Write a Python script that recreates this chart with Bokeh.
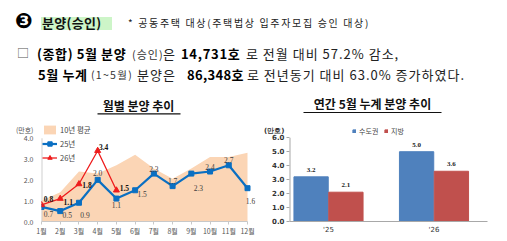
from bokeh.plotting import figure
from bokeh.models import (ColumnDataSource, Range1d, FixedTicker, Legend, LegendItem,
                          Label, LabelSet, Div, BoxAnnotation)
from bokeh.layouts import column, row
from bokeh.transform import dodge
from bokeh.embed import file_html
from bokeh.resources import INLINE

# ---------------- data ----------------
months = list(range(1, 13))
month_labels = [f"{m}월" for m in months]
avg10 = [1.0, 1.4, 2.4, 2.3, 2.7, 3.2, 2.55, 2.05, 2.55, 3.1, 3.1, 3.3]
y25 = [0.7, 0.5, 0.9, 2.0, 1.1, 1.5, 2.3, 1.7, 2.3, 2.4, 2.7, 1.6]
months26 = [1, 2, 3, 4, 5]
y26 = [0.8, 1.1, 1.8, 3.4, 1.5]
y_ticks_left = [0, 1, 2, 3, 4]
unit_label = "(만호)"

years = ["'25", "'26"]
year_idx = [0, 1]
capital = [3.2, 5.0]
regional = [2.1, 3.6]
y_ticks_right = [0, 1, 2, 3, 4, 5, 6]

# label offsets (styling only)
off25_x = [7, 7, 6, 0, 0, 7, 0, 0, 7, 0, 0, 3]
off25_y = [-7, -4, -12, 7, -6, -4, 5, 5, -14, 5, 5, -13]
off26_x = [7, 8, 8, 6, 8]
off26_y = [6, -3, -1, 4, 2]

FONT = "Noto Sans CJK KR"

# ---------------- header ----------------
def span(txt, left, top, size, weight="normal", ls=0, color="#111", extra=""):
    return (f'<span style="position:absolute;left:{left}px;top:{top}px;font-size:{size}px;'
            f'font-weight:{weight};letter-spacing:{ls}px;color:{color};white-space:nowrap;'
            f'line-height:{size + 2}px;font-family:\'{FONT}\',\'DejaVu Sans\';{extra}">{txt}</span>')

html = '<div style="position:relative;width:507px;height:88px;">'
html += span("❸", 15, 10, 21, "bold", 0, "#000", "font-family:'DejaVu Sans';")
html += ('<span style="position:absolute;left:41px;top:17px;width:71px;height:13px;'
         'background:#cdf5c8;"></span>')
html += span("분양(승인)", 42, 15, 13, "bold", 0.3, "#111")
html += span("* 공동주택 대상(주택법상 입주자모집 승인 대상)", 128, 17, 10, "normal", 1.65, "#222")
html += span("□", 17, 46, 12, "normal", 0, "#555")
html += span("(종합) 5월 분양", 37, 46, 13, "bold", 0.6, "#000")
html += span("(승인)", 132, 48, 11, "normal", 1.0, "#333")
html += span("은", 163, 46, 13, "normal", 0, "#222")
html += span("14,731호", 181, 46, 13, "bold", 0.7, "#000")
html += span("로 전월 대비 57.2% 감소,", 246, 46, 13, "normal", 1.0, "#222")
html += span("5월 누계", 38, 67, 13, "bold", 0.6, "#000")
html += span("(1~5월)", 91, 69, 10.5, "normal", 1.3, "#333")
html += span("분양은", 137, 67, 13, "normal", 1.0, "#222")
html += span("86,348호", 187, 67, 13, "bold", 0.3, "#000")
html += span("로 전년동기 대비 63.0% 증가하였다.", 247, 67, 13, "normal", 1.0, "#222")
html += '</div>'
header = Div(text=html, width=507, height=88, margin=(0, 0, 0, 0))

# ---------------- left chart ----------------
L_W, L_H = 256, 153
L_FL, L_FR, L_FB = 41, 255, 221          # frame left/right/bottom (page px)
px_x = (247 - 41) / (months[-1] - months[0])
px_y = (221 - 137.7) / y_ticks_left[-1]
p1 = figure(width=L_W, height=L_H, output_backend="svg", toolbar_location=None,
            x_range=Range1d(months[0], months[-1] + (L_FR - 247) / px_x),
            y_range=Range1d(0, (L_FB - 88) / px_y),
            min_border_left=L_FL, min_border_right=L_W - L_FR, min_border_top=0,
            min_border_bottom=241 - L_FB, outline_line_color=None)
p1.xgrid.visible = False
p1.ygrid.visible = False

src25 = ColumnDataSource(dict(x=months, y=y25, avg=avg10, lab=[f"{v:.1f}" for v in y25],
                              ox=off25_x, oy=off25_y))
src26 = ColumnDataSource(dict(x=months26, y=y26, lab=[f"{v:.1f}" for v in y26],
                              ox=off26_x, oy=off26_y))

r_area = p1.varea(x="x", y1=0, y2="avg", source=src25, fill_color="#fbd5b5")
# faint value-axis line
p1.segment(x0=months[0], y0=y_ticks_left[0], x1=months[0], y1=y_ticks_left[-1],
           line_color="#d0d0d0", line_width=2)
r25l = p1.line("x", "y", source=src25, line_color="#0a6fc2", line_width=2.2)
r25s = p1.scatter("x", "y", source=src25, marker="square", size=5, fill_color="#0a6fc2",
                  line_color="#0a6fc2")
r26l = p1.line("x", "y", source=src26, line_color="#ee1c1c", line_width=1.3)
r26s = p1.scatter("x", "y", source=src26, marker="triangle", size=6, fill_color="#ee1c1c",
                  line_color="#ee1c1c")

p1.add_layout(LabelSet(x="x", y="y", text="lab", source=src25, x_offset="ox", y_offset="oy",
                       text_align="center", text_baseline="middle", text_font_size="7.5px",
                       text_color="#404040", text_font="DejaVu Serif"))
p1.add_layout(LabelSet(x="x", y="y", text="lab", source=src26, x_offset="ox", y_offset="oy",
                       text_align="center", text_baseline="middle", text_font_size="7.5px",
                       text_color="#111", text_font_style="bold", text_font="DejaVu Sans"))

for ax in (p1.xaxis[0], p1.yaxis[0]):
    ax.major_label_text_font_size = "7px"
    ax.major_label_text_color = "#555"
    ax.major_label_text_font = FONT
    ax.minor_tick_line_color = None
p1.xaxis.axis_line_color = "#c8c8c8"
p1.xaxis.bounds = (months[0], months[-1])
p1.xaxis.ticker = FixedTicker(ticks=months)
p1.xaxis.major_label_overrides = {m: l for m, l in zip(months, month_labels)}
p1.xaxis.major_tick_line_color = "#c8c8c8"
p1.xaxis.major_tick_in = 0
p1.xaxis.major_tick_out = 3
p1.xaxis.major_label_standoff = 1

unit_pos_l = (L_FB - 129) / px_y
p1.yaxis.axis_line_color = None
p1.yaxis.ticker = FixedTicker(ticks=y_ticks_left + [unit_pos_l])
ov = {t: f"{t:.1f}" for t in y_ticks_left}
ov[unit_pos_l] = unit_label
p1.yaxis.major_label_overrides = ov
p1.yaxis.major_tick_line_color = None
p1.yaxis.major_tick_in = 0
p1.yaxis.major_tick_out = 0
p1.yaxis.major_label_standoff = 8

leg1 = Legend(items=[LegendItem(label="10년 평균", renderers=[r_area]),
                     LegendItem(label="25년", renderers=[r25l, r25s]),
                     LegendItem(label="26년", renderers=[r26l, r26s])],
              location=(1, 58), orientation="vertical", background_fill_alpha=0,
              border_line_color=None, padding=0, margin=0, spacing=3,
              glyph_width=15, glyph_height=11, label_height=11, label_standoff=3,
              label_text_font_size="7.5px", label_text_color="#444", label_text_font=FONT)
p1.add_layout(leg1, "center")

p1.add_layout(Label(x=97, y=116, x_units="screen", y_units="screen", text="월별 분양 추이",
                    text_align="center", text_baseline="middle", text_font_size="12px",
                    text_font_style="bold", text_color="#111", text_font=FONT))
p1.add_layout(BoxAnnotation(left=56, right=139, bottom=107, top=108.2, left_units="screen",
                            right_units="screen", bottom_units="screen", top_units="screen",
                            fill_color="#111", fill_alpha=1, line_color=None))

# ---------------- right chart ----------------
R_W, R_H = 507 - L_W, 153
R_FL, R_FR, R_FB = 289, 487, 223
px_xr = 433.5 - 328
px_yr = (R_FB - 138) / y_ticks_right[-1]
p2 = figure(width=R_W, height=R_H, output_backend="svg", toolbar_location=None,
            x_range=Range1d(-(328 - R_FL) / px_xr, 1 + (R_FR - 433.5) / px_xr),
            y_range=Range1d(0, (R_FB - 88) / px_yr),
            min_border_left=R_FL - L_W, min_border_right=507 - R_FR, min_border_top=0,
            min_border_bottom=241 - R_FB, outline_line_color=None)
p2.xgrid.visible = False
p2.ygrid.visible = False

srcR = ColumnDataSource(dict(idx=year_idx, cap=capital, reg=regional,
                             capl=[f"{v:.1f}" for v in capital],
                             regl=[f"{v:.1f}" for v in regional]))
rc = p2.vbar(x=dodge("idx", -0.165), top="cap", width=0.325,
             source=srcR, fill_color="#4f81bd", line_color="#4f81bd")
rr = p2.vbar(x=dodge("idx", 0.165), top="reg", width=0.325,
             source=srcR, fill_color="#c0504d", line_color="#c0504d")
p2.segment(x0=p2.x_range.start, y0=y_ticks_right[0], x1=p2.x_range.start,
           y1=y_ticks_right[-1], line_color="#a8a8a8", line_width=2)
p2.add_layout(LabelSet(x=dodge("idx", -0.165), y="cap", text="capl",
                       source=srcR, y_offset=7, text_align="center", text_baseline="middle",
                       text_font_size="7px", text_font_style="bold", text_color="#222",
                       text_font="DejaVu Sans"))
p2.add_layout(LabelSet(x=dodge("idx", 0.165), y="reg", text="regl",
                       source=srcR, y_offset=7, text_align="center", text_baseline="middle",
                       text_font_size="7px", text_font_style="bold", text_color="#222",
                       text_font="DejaVu Sans"))

for ax in (p2.xaxis[0], p2.yaxis[0]):
    ax.major_label_text_font_size = "7px"
    ax.major_label_text_color = "#333"
    ax.major_label_text_font = "DejaVu Sans"
p2.xaxis.axis_line_color = "#a8a8a8"
p2.xaxis.ticker = FixedTicker(ticks=year_idx)
p2.xaxis.major_label_overrides = {i: y for i, y in zip(year_idx, years)}
p2.xaxis.major_tick_line_color = None
p2.xaxis.minor_tick_line_color = None
p2.xaxis.major_tick_out = 3
p2.xaxis.major_label_standoff = 1

unit_pos_r = (R_FB - 131) / px_yr
ovr = {t: f"{t:.1f}" for t in y_ticks_right}
ovr[unit_pos_r] = unit_label
p2.yaxis.axis_line_color = None
p2.yaxis.ticker = FixedTicker(ticks=y_ticks_right + [unit_pos_r], minor_ticks=y_ticks_right)
p2.yaxis.major_label_overrides = ovr
p2.yaxis.major_label_text_font_style = "bold"
p2.yaxis.major_tick_line_color = None
p2.yaxis.major_tick_in = 0
p2.yaxis.major_tick_out = 3
p2.yaxis.minor_tick_line_color = "#a8a8a8"
p2.yaxis.minor_tick_in = 0
p2.yaxis.minor_tick_out = 3
p2.yaxis.major_label_standoff = 2

leg2 = Legend(items=[LegendItem(label="수도권", renderers=[rc]),
                     LegendItem(label="지방", renderers=[rr])],
              location=(63, 85), orientation="horizontal", background_fill_alpha=0,
              border_line_color=None, padding=0, margin=0, spacing=5,
              glyph_width=4, glyph_height=4, label_height=9, label_standoff=3,
              label_text_font_size="7px", label_text_color="#444", label_text_font=FONT)
p2.add_layout(leg2, "center")

p2.add_layout(Label(x=372 - R_FL, y=R_FB - 105, x_units="screen", y_units="screen",
                    text="연간 5월 누계 분양 추이",
                    text_align="center", text_baseline="middle", text_font_size="12px",
                    text_font_style="bold", text_color="#111", text_font=FONT))
p2.add_layout(BoxAnnotation(left=303 - R_FL, right=441 - R_FL, bottom=R_FB - 114.6,
                            top=R_FB - 113.4, left_units="screen",
                            right_units="screen", bottom_units="screen", top_units="screen",
                            fill_color="#111", fill_alpha=1, line_color=None))

layout = column(header, row(p1, p2, spacing=0), spacing=0)
open("out.html", "w").write(file_html(layout, INLINE))
